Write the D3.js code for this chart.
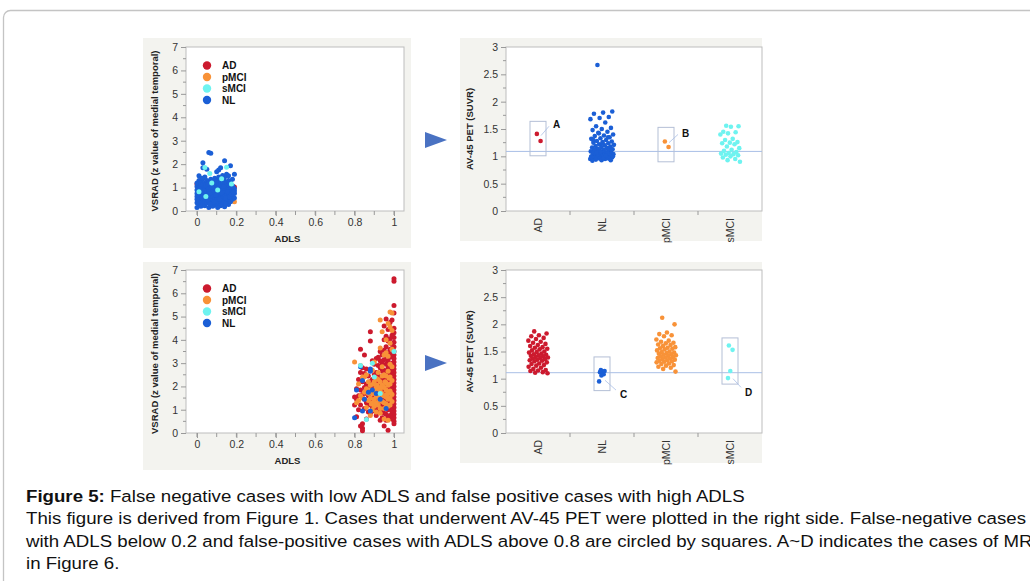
<!DOCTYPE html>
<meta charset="utf-8">
<script src="https://d3js.org/d3.v7.min.js"></script>
<style>
  body { margin: 0; background: #fff; }
  text { font-family: "Liberation Sans", Arial, sans-serif; }
</style>
<div id="fig"></div>
<script>

// ---- data ----
var groups = ["AD", "pMCI", "sMCI", "NL"];
var colors = {AD: "#cc1a2e", pMCI: "#f89238", sMCI: "#6ef3f0", NL: "#1b5fd6"};
var petCats = ["AD", "NL", "pMCI", "sMCI"];

// top-left: ADLS vs VSRAD, low ADLS cases
var tlNL = [[0.0,0.15],[0.0,0.35],[0.0,0.5],[0.0,0.62],[0.0,0.75],[0.0,0.9],[0.0,1.05],[0.0,1.2],[0.01,0.28],[0.01,0.45],[0.01,0.58],[0.01,0.82],[0.01,0.97],[0.01,1.3],[0.01,1.5],[0.02,0.2],[0.02,0.4],[0.02,0.68],[0.02,0.88],[0.02,1.1],[0.02,1.25],
  [0.03,0.3],[0.03,0.5],[0.03,0.72],[0.03,0.95],[0.03,1.15],[0.03,1.38],[0.03,1.85],[0.03,2.06],[0.04,0.22],[0.04,0.42],[0.04,0.6],[0.04,0.8],[0.04,1.02],[0.04,1.2],[0.04,1.45],[0.05,0.35],[0.05,0.55],[0.05,0.75],[0.05,0.9],[0.05,1.08],[0.05,1.3],[0.05,1.78],
  [0.06,0.15],[0.06,0.4],[0.06,0.62],[0.06,0.85],[0.06,1.0],[0.06,1.25],[0.06,2.5],[0.07,2.47],[0.07,0.28],[0.07,0.5],[0.07,0.7],[0.07,0.92],[0.07,1.12],[0.07,1.35],[0.08,0.2],[0.08,0.45],[0.08,0.65],[0.08,0.82],[0.08,1.05],[0.08,1.22],
  [0.09,0.32],[0.09,0.55],[0.09,0.78],[0.09,0.98],[0.09,1.15],[0.09,1.4],[0.1,0.25],[0.1,0.48],[0.1,0.68],[0.1,0.88],[0.1,1.1],[0.1,1.3],[0.1,1.68],[0.11,0.35],[0.11,0.6],[0.11,0.8],[0.11,1.0],[0.11,1.2],[0.11,1.45],[0.11,1.75],
  [0.12,0.22],[0.12,0.42],[0.12,0.65],[0.12,0.9],[0.12,1.12],[0.12,1.3],[0.12,1.85],[0.13,0.3],[0.13,0.55],[0.13,0.75],[0.13,0.95],[0.13,1.18],[0.13,1.52],[0.14,0.18],[0.14,0.4],[0.14,0.62],[0.14,0.85],[0.14,1.05],[0.14,1.25],[0.14,1.45],[0.14,2.15],
  [0.15,0.35],[0.15,0.55],[0.15,0.72],[0.15,0.95],[0.15,1.15],[0.15,1.57],[0.16,0.28],[0.16,0.48],[0.16,0.7],[0.16,0.9],[0.16,1.1],[0.16,1.3],[0.16,1.5],[0.17,0.4],[0.17,0.6],[0.17,0.82],[0.17,1.0],[0.17,1.22],[0.17,1.93],
  [0.18,0.5],[0.18,0.7],[0.18,0.9],[0.18,1.08],[0.18,1.35],[0.19,0.55],[0.19,0.75],[0.19,0.85],[0.19,0.95],[0.19,1.57],
  [0.005,0.68],[0.025,0.55],[0.035,0.85],[0.045,1.1],[0.055,0.48],[0.065,0.75],[0.075,1.02],[0.085,0.38],[0.095,0.68],[0.105,0.95],[0.115,0.5],[0.125,0.78],[0.135,1.05],[0.145,0.55],[0.155,0.82],[0.165,0.6],[0.175,0.72],[0.185,0.8],[0.015,0.95],[0.055,1.15],[0.095,1.25],[0.135,1.35],[0.165,1.18],[0.025,1.4],[0.105,0.15],[0.065,0.3],[0.145,0.3],[0.185,1.0]];
var tlSMCI = [[0.065,1.6],[0.15,1.87],[0.04,1.86],[0.125,1.38],[0.075,1.2],[0.105,0.9],[0.175,1.15],[0.045,0.62],[0.01,0.82]];
var tlAD = [[0.15,0.8],[0.19,1.02],[0.0,1.15],[0.02,0.25],[0.1,0.55],[0.14,0.75],[0.07,1.0]];
var tlPMCI = [[0.19,0.4],[0.12,1.25],[0.05,1.22],[0.16,0.9]];

// bottom-left: high ADLS cases
var blAD = [[1,6.62],[1,6.52],[1,5.48],[1,5.15],[1,4.5],[1,4.3],[1,4.1],[1,3.9],[1,3.7],[1,3.5],[1,3.35],[1,3.2],[1,3.05],[1,2.9],[1,2.75],[1,2.6],[1,2.45],[1,2.3],[1,2.15],[1,2.0],[1,1.85],[1,1.7],[1,1.55],[1,1.4],[1,1.25],[1,1.1],[1,0.95],[1,0.8],[1,0.65],[1,0.5],[1,0.4],
  [0.99,4.85],[0.99,4.2],[0.99,3.8],[0.99,3.4],[0.99,3.0],[0.99,2.7],[0.99,2.4],[0.99,2.1],[0.99,1.8],[0.99,1.5],[0.99,1.2],[0.99,0.9],[0.99,0.6],
  [0.98,4.75],[0.98,4.05],[0.98,3.6],[0.98,3.25],[0.98,2.85],[0.98,2.55],[0.98,2.25],[0.98,1.95],[0.98,1.65],[0.98,1.35],[0.98,1.05],[0.98,0.75],
  [0.97,4.45],[0.97,3.95],[0.97,3.45],[0.97,3.1],[0.97,2.8],[0.97,2.5],[0.97,2.2],[0.97,1.9],[0.97,1.6],[0.97,1.3],[0.97,1.0],[0.97,0.7],[0.97,0.12],
  [0.96,4.9],[0.96,4.15],[0.96,3.7],[0.96,3.3],[0.96,2.95],[0.96,2.6],[0.96,2.3],[0.96,2.0],[0.96,1.7],[0.96,1.4],[0.96,1.1],[0.96,0.8],[0.96,0.55],
  [0.95,4.6],[0.95,4.0],[0.95,3.55],[0.95,3.15],[0.95,2.7],[0.95,2.35],[0.95,2.05],[0.95,1.75],[0.95,1.45],[0.95,1.15],[0.95,0.85],[0.95,0.3],
  [0.94,3.35],[0.94,3.0],[0.94,2.65],[0.94,2.25],[0.94,1.9],[0.94,1.55],[0.94,1.25],[0.94,0.95],[0.94,0.65],
  [0.93,3.5],[0.93,3.1],[0.93,2.8],[0.93,2.4],[0.93,2.0],[0.93,1.6],[0.93,1.2],[0.93,0.55],
  [0.92,3.25],[0.92,2.9],[0.92,2.45],[0.92,2.1],[0.92,1.75],[0.92,1.35],[0.92,0.9],
  [0.91,3.2],[0.91,2.6],[0.91,2.2],[0.91,1.85],[0.91,1.45],[0.91,1.05],[0.91,0.75],
  [0.9,2.95],[0.9,2.5],[0.9,2.05],[0.9,1.65],[0.9,1.3],[0.9,0.95],
  [0.89,3.1],[0.89,2.3],[0.89,1.9],[0.89,1.5],[0.89,1.1],
  [0.88,4.35],[0.88,3.95],[0.88,2.7],[0.88,2.2],[0.88,1.75],[0.88,1.35],[0.88,0.85],
  [0.87,2.45],[0.87,2.0],[0.87,1.6],[0.87,1.2],[0.87,0.9],
  [0.86,2.75],[0.86,2.1],[0.86,1.7],[0.86,1.3],[0.86,0.6],
  [0.85,3.35],[0.85,2.55],[0.85,1.95],[0.85,1.45],[0.85,1.05],
  [0.84,2.8],[0.84,2.2],[0.84,1.65],[0.84,0.4],[0.84,0.2],[0.84,0.1],
  [0.83,3.6],[0.83,2.6],[0.83,1.85],[0.83,1.2],[0.83,0.3],
  [0.82,2.3],[0.82,1.6],[0.82,1.0],[0.81,1.9],[0.81,1.45],[0.81,0.7],[0.8,1.55],[0.8,1.2]];
var blPMCI = [[0.8,3.05],[0.82,2.1],[0.82,1.4],[0.83,2.9],[0.84,1.5],[0.85,2.4],[0.86,1.9],[0.86,1.1],[0.87,2.2],[0.87,1.7],[0.88,1.5],[0.88,0.75],[0.89,2.7],[0.89,1.7],[0.89,1.3],[0.9,3.05],[0.9,1.8],[0.9,1.45],[0.9,1.15],
  [0.91,2.35],[0.91,1.95],[0.91,1.6],[0.91,0.9],[0.92,2.6],[0.92,1.9],[0.92,1.55],[0.92,1.2],[0.93,4.85],[0.93,3.65],[0.93,2.2],[0.93,1.8],[0.93,1.4],[0.93,0.85],[0.94,4.35],[0.94,2.85],[0.94,2.05],[0.94,1.7],[0.94,1.35],
  [0.95,3.35],[0.95,2.5],[0.95,1.95],[0.95,1.6],[0.95,1.3],[0.95,0.6],[0.96,4.0],[0.96,3.45],[0.96,2.45],[0.96,1.85],[0.96,1.55],[0.96,1.25],[0.97,4.7],[0.97,3.3],[0.97,2.65],[0.97,2.05],[0.97,1.75],[0.97,1.45],[0.97,0.55],
  [0.98,5.2],[0.98,4.55],[0.98,3.85],[0.98,2.95],[0.98,2.4],[0.98,1.8],[0.98,1.5],[0.98,1.2],[0.99,5.15],[0.99,4.4],[0.99,3.6],[0.99,2.85],[0.99,2.25],[0.99,1.65],[0.99,1.35],
  [0.84,2.4],[0.86,2.5],[0.88,2.05],[0.9,2.2],[0.92,2.3],[0.94,2.45],[0.96,2.15],[0.98,2.1],[0.85,1.75],[0.87,1.4],[0.89,1.0],[0.91,1.3],[0.93,1.05],[0.95,1.05],[0.97,1.15],[0.83,1.6],[0.81,1.3],
  [0.905,1.7],[0.915,2.05],[0.925,1.45],[0.935,1.95],[0.945,1.6],[0.955,2.2],[0.965,1.65],[0.975,2.35],[0.985,1.7],[0.875,1.85],[0.885,1.25],[0.895,2.1]];
var blNL = [[0.8,0.65],[0.81,1.85],[0.83,2.85],[0.84,2.25],[0.84,0.95],[0.85,1.45],[0.87,1.75],[0.88,2.75],[0.88,2.65],[0.88,0.95],[0.89,1.85],[0.91,1.7],[0.93,1.45],[0.96,1.05]];
var blSMCI = [[0.83,2.9],[0.86,0.58],[0.89,3.0],[1,3.5],[0.93,1.7],[0.9,2.4]];

// top-right: AV-45 SUVR of low ADLS cases
var trPet = {
  AD: [1.41, 1.28],
  NL: [2.67,1.82,1.80,1.78,1.72,1.70,1.68,1.62,1.55,1.52,1.50,1.48,1.45,1.43,1.40,1.38,1.37,1.35,1.33,1.32,1.30,1.28,1.27,1.26,1.25,1.24,1.22,1.21,1.20,1.19,1.18,1.17,1.16,1.15,1.14,1.13,1.12,1.11,1.10,1.10,1.09,1.08,1.08,1.07,1.06,1.06,1.05,1.04,1.04,1.03,1.02,1.02,1.01,1.00,1.00,0.99,0.98,0.98,0.97,0.96,0.96,0.95,0.95,0.94,0.93,0.93,0.92,1.05,1.03,1.00,0.97,1.12,1.15,1.08,0.99,1.01,1.07,1.13,1.24,1.30,1.35,1.42],
  pMCI: [1.27, 1.17],
  sMCI: [1.56,1.55,1.54,1.45,1.44,1.42,1.40,1.32,1.30,1.26,1.25,1.24,1.22,1.18,1.15,1.12,1.10,1.08,1.06,1.05,1.04,1.03,1.02,1.00,0.98,0.95,0.93,0.90]
};
// bottom-right: AV-45 SUVR of high ADLS cases
var brPet = {
  AD: [1.87,1.83,1.80,1.78,1.75,1.73,1.70,1.68,1.66,1.64,1.62,1.60,1.58,1.57,1.55,1.54,1.52,1.50,1.49,1.48,1.46,1.45,1.44,1.43,1.42,1.41,1.40,1.39,1.38,1.37,1.36,1.35,1.34,1.33,1.32,1.30,1.28,1.27,1.25,1.24,1.22,1.20,1.18,1.16,1.15,1.14,1.12,1.11,1.10],
  NL: [1.16,1.14,1.13,1.12,1.08,1.06,0.95],
  pMCI: [2.12,2.00,1.85,1.82,1.80,1.78,1.72,1.70,1.68,1.66,1.65,1.63,1.62,1.60,1.58,1.57,1.56,1.55,1.54,1.52,1.50,1.49,1.48,1.47,1.46,1.45,1.44,1.43,1.42,1.41,1.40,1.39,1.38,1.37,1.36,1.35,1.34,1.33,1.32,1.31,1.30,1.28,1.27,1.25,1.24,1.22,1.20,1.18,1.13],
  sMCI: [1.61, 1.53, 1.14, 1.01]
};
var trRef = 1.09, brRef = 1.11;
var trBoxes = [{cat: "AD", lo: 1.01, hi: 1.64, label: "A", lv: 1.6, pv: 1.38, ev: 1.55, dx: 15},
               {cat: "pMCI", lo: 0.9, hi: 1.53, label: "B", lv: 1.43, pv: 1.25, ev: 1.40, dx: 16}];
var brBoxes = [{cat: "NL", lo: 0.78, hi: 1.40, label: "C", lv: 0.72, pv: 0.97, ev: 0.79, dx: 18},
               {cat: "sMCI", lo: 0.90, hi: 1.75, label: "D", lv: 0.76, pv: 1.0, ev: 0.84, dx: 15}];

var captionLines = [
  ["Figure 5:", " False negative cases with low ADLS and false positive cases with high ADLS"],
  ["", "This figure is derived from Figure 1. Cases that underwent AV-45 PET were plotted in the right side. False-negative cases"],
  ["", "with ADLS below 0.2 and false-positive cases with ADLS above 0.8 are circled by squares. A~D indicates the cases of MRI"],
  ["", "in Figure 6."]
];

// ---- drawing ----
var svg = d3.select("#fig").append("svg")
  .attr("width", 1030).attr("height", 581);

svg.append("rect").attr("x", 3.5).attr("y", 10.5).attr("width", 1100).attr("height", 700)
  .attr("rx", 7).attr("fill", "#fff").attr("stroke", "#c4c4c4").attr("stroke-width", 1.3);

var bg = "#f3f3ef", frameCol = "#bdbdbd", tickCol = "#999";

function yAxis(g, y, major, minor) {
  g.selectAll(".mn").data(minor).enter().append("line")
    .attr("x1", -3).attr("x2", 0).attr("y1", y).attr("y2", y).attr("stroke", tickCol);
  g.call(d3.axisLeft(y).tickValues(major).tickSize(5).tickPadding(3).tickFormat(d3.format("")))
    .call(function(a) { a.select(".domain").remove(); })
    .call(function(a) { a.selectAll(".tick line").attr("stroke", tickCol); })
    .call(function(a) { a.selectAll("text").attr("fill", "#333").style("font-size", "10.5px"); });
}

function scatterPanel(p) {
  svg.append("rect").attr("x", p.bx).attr("y", p.by).attr("width", p.bw).attr("height", p.bh).attr("fill", bg);
  var x = d3.scaleLinear().domain([-0.0558, 1.0508]).range([p.l, p.r]);
  var y = d3.scaleLinear().domain([0, 7]).range([p.b, p.t]);
  svg.append("rect").attr("x", p.l).attr("y", p.t).attr("width", p.r - p.l).attr("height", p.b - p.t)
    .attr("fill", "#fff").attr("stroke", frameCol);

  var gx = svg.append("g").attr("transform", "translate(0," + p.b + ")");
  gx.selectAll(".mn").data(d3.range(0, 1.01, 0.1)).enter().append("line")
    .attr("x1", x).attr("x2", x).attr("y1", 0).attr("y2", 4).attr("stroke", tickCol);
  gx.call(d3.axisBottom(x).tickValues([0, 0.2, 0.4, 0.6, 0.8, 1]).tickSize(5).tickPadding(3).tickFormat(d3.format("")))
    .call(function(a) { a.select(".domain").remove(); })
    .call(function(a) { a.selectAll(".tick line").attr("stroke", tickCol); })
    .call(function(a) { a.selectAll("text").attr("fill", "#333").style("font-size", "10.5px"); });

  var gy = svg.append("g").attr("transform", "translate(" + p.l + ",0)");
  yAxis(gy, y, d3.range(0, 8), d3.range(0.5, 7, 1));

  svg.append("text").attr("x", (x(0) + x(1)) / 2 - 8).attr("y", p.b + 31)
    .attr("text-anchor", "middle").attr("font-weight", "bold").style("font-size", "9.5px").attr("fill", "#222").text("ADLS");
  svg.append("text").attr("transform", "translate(" + (p.l - 28) + "," + ((p.t + p.b) / 2 + 2) + ") rotate(-90)")
    .attr("text-anchor", "middle").attr("font-weight", "bold").style("font-size", "9.5px").attr("fill", "#222")
    .text("VSRAD (z value of medial temporal)");

  p.layers.forEach(function(layer) {
    svg.append("g").selectAll("circle").data(layer.pts).enter().append("circle")
      .attr("cx", function(d) { return x(d[0]); })
      .attr("cy", function(d) { return y(d[1]); })
      .attr("r", 2.5).attr("fill", colors[layer.g]);
  });

  var lg = svg.append("g").attr("transform", "translate(" + (p.l + 21) + "," + (p.t + 18.5) + ")");
  groups.forEach(function(g, i) {
    lg.append("circle").attr("cx", 0).attr("cy", i * 11.5).attr("r", 4.2).attr("fill", colors[g]);
    lg.append("text").attr("x", 15).attr("y", i * 11.5 + 3.6).attr("font-weight", "bold")
      .style("font-size", "10px").attr("fill", "#111").text(g);
  });
}

function jit(i, n) {
  var w = n < 10 ? 6 : (n > 70 ? 24 : 20);
  return (((i * 0.618034 + 0.31) % 1) - 0.5) * w;
}

function petPanel(p) {
  svg.append("rect").attr("x", p.bx).attr("y", p.by).attr("width", p.bw).attr("height", p.bh).attr("fill", bg);
  var x = d3.scaleBand().domain(petCats).range([p.l, p.r]);
  var y = d3.scaleLinear().domain([0, 3]).range([p.b, p.t]);
  svg.append("rect").attr("x", p.l).attr("y", p.t).attr("width", p.r - p.l).attr("height", p.b - p.t)
    .attr("fill", "#fff").attr("stroke", frameCol);

  var gy = svg.append("g").attr("transform", "translate(" + p.l + ",0)");
  yAxis(gy, y, [0, 0.5, 1, 1.5, 2, 2.5, 3], d3.range(0.25, 3, 0.5));

  var gx = svg.append("g").attr("transform", "translate(0," + p.b + ")");
  gx.selectAll("line").data(petCats.slice(1)).enter().append("line")
    .attr("x1", function(d) { return x(d); }).attr("x2", function(d) { return x(d); })
    .attr("y1", 0).attr("y2", 4).attr("stroke", tickCol);
  gx.selectAll("text").data(petCats).enter().append("text")
    .attr("transform", function(d) { return "translate(" + (x(d) + x.bandwidth() / 2 + 4) + ",7) rotate(-90)"; })
    .attr("text-anchor", "end").style("font-size", "10.5px").attr("fill", "#333").text(function(d) { return d; });

  svg.append("text").attr("transform", "translate(" + (p.l - 33) + "," + ((p.t + p.b) / 2) + ") rotate(-90)")
    .attr("text-anchor", "middle").attr("font-weight", "bold").style("font-size", "9.5px").attr("fill", "#222")
    .text("AV-45 PET (SUVR)");

  svg.append("line").attr("x1", p.l).attr("x2", p.r).attr("y1", y(p.ref)).attr("y2", y(p.ref))
    .attr("stroke", "#a9bfe6").attr("stroke-width", 1);

  petCats.forEach(function(c) {
    var vals = p.data[c];
    svg.append("g").selectAll("circle").data(vals).enter().append("circle")
      .attr("cx", function(d, i) { return x(c) + x.bandwidth() / 2 + jit(i, vals.length); })
      .attr("cy", function(d) { return y(d); })
      .attr("r", 2.3).attr("fill", colors[c]);
  });

  p.boxes.forEach(function(b) {
    var cx = x(b.cat) + x.bandwidth() / 2;
    svg.append("rect").attr("x", cx - 8).attr("y", y(b.hi)).attr("width", 16).attr("height", y(b.lo) - y(b.hi))
      .attr("fill", "none").attr("stroke", "#b4bfd6").attr("stroke-width", 1);
    svg.append("line").attr("x1", cx + 3).attr("y1", y(b.pv)).attr("x2", cx + b.dx - 4).attr("y2", y(b.ev))
      .attr("stroke", "#a9bfe6").attr("stroke-width", 0.8);
    svg.append("text").attr("x", cx + b.dx).attr("y", y(b.lv) + 4).attr("font-weight", "bold")
      .style("font-size", "10px").attr("fill", "#111").text(b.label);
  });

  svg.append("path")
    .attr("d", d3.line()([[425, p.ay - 8], [447, p.ay], [425, p.ay + 8]]) + "Z")
    .attr("fill", "#4a72c2");
}

scatterPanel({bx: 143, by: 38, bw: 268, bh: 210, l: 186, r: 404, t: 47, b: 211,
  layers: [{g: "AD", pts: tlAD}, {g: "pMCI", pts: tlPMCI}, {g: "NL", pts: tlNL}, {g: "sMCI", pts: tlSMCI}]});
scatterPanel({bx: 143, by: 262, bw: 268, bh: 208, l: 186, r: 404, t: 270, b: 433,
  layers: [{g: "AD", pts: blAD}, {g: "pMCI", pts: blPMCI}, {g: "NL", pts: blNL}, {g: "sMCI", pts: blSMCI}]});
petPanel({bx: 460, by: 38, bw: 302, bh: 203, l: 506, r: 762, t: 47, b: 211, ref: trRef, data: trPet, boxes: trBoxes, ay: 140});
petPanel({bx: 460, by: 262, bw: 302, bh: 201, l: 506, r: 762, t: 270, b: 433, ref: brRef, data: brPet, boxes: brBoxes, ay: 363});

// caption, condensed like Arial Narrow
var cap = svg.append("g");
var rows = captionLines.map(function(line, i) {
  var t = cap.append("text").attr("y", 502 + i * 22.5).style("font-size", "17px").attr("fill", "#111");
  if (line[0]) t.append("tspan").attr("font-weight", "bold").text(line[0]);
  t.append("tspan").text(line[1]);
  return t;
});
var sx = 719 / rows[0].node().getComputedTextLength();
rows.forEach(function(t) { t.attr("transform", "translate(26,0) scale(" + sx + ",1)"); });

</script>
